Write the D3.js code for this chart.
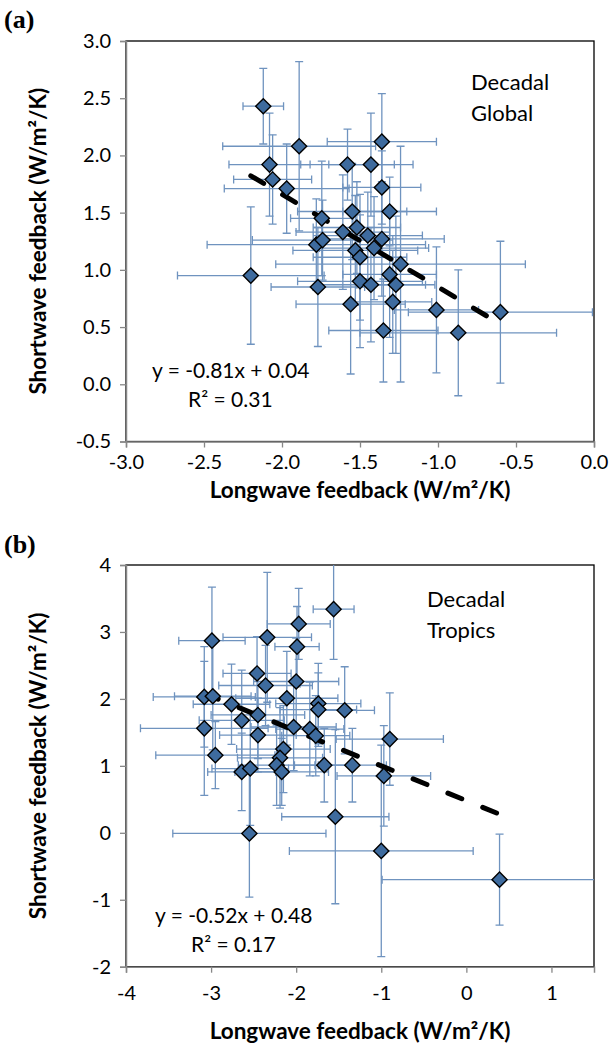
<!DOCTYPE html>
<html><head><meta charset="utf-8">
<script src="https://cdn.jsdelivr.net/npm/d3@7"></script>
<style>
body{margin:0;background:#fff;}
svg{display:block;}
text{font-family:Lato,"Open Sans",sans-serif;}
</style></head>
<body>
<svg id="c" width="611" height="1047"></svg>
<script>
// ---------- Panel (a): Decadal Global ----------
const lwA    = [-2.12,-1.89,-1.58,-1.43,-1.36,-2.08,-2.06,-1.97,-1.36,-1.55,-1.31,-1.745,-1.78,-1.74,-1.61,-1.52,-1.45,-1.36,-1.41,-1.53,-1.50,-1.24,-2.20,-1.77,-1.50,-1.43,-1.31,-1.27,-1.29,-1.56,-1.35,-1.01,-0.87,-0.60];
const swA    = [ 2.43, 2.08, 1.92, 1.92, 2.12, 1.92, 1.79, 1.71, 1.72, 1.51, 1.51, 1.45, 1.22, 1.26, 1.33, 1.37, 1.30, 1.27, 1.19, 1.17, 1.11, 1.05, 0.95, 0.85, 0.90, 0.87, 0.96, 0.87, 0.72, 0.70, 0.47, 0.65, 0.45, 0.63];
const lwErrA = [ 0.13, 0.49, 0.30, 0.27, 0.35, 0.26, 0.25, 0.40, 0.25, 0.35, 0.30, 0.20, 0.70, 0.45, 0.30, 0.28, 0.35, 0.40, 0.35, 0.40, 0.30, 0.80, 0.47, 0.30, 0.40, 0.35, 0.30, 0.25, 0.25, 0.35, 0.35, 0.27, 0.63, 0.59];
const swErrA = [ 0.33, 0.74, 0.31, 0.45, 0.42, 0.45, 0.39, 0.39, 0.32, 0.42, 0.30, 0.50, 0.40, 0.35, 0.50, 0.40, 0.38, 0.50, 0.45, 0.48, 0.55, 1.03, 0.60, 0.52, 0.58, 0.50, 0.55, 0.60, 0.45, 0.61, 0.45, 0.55, 0.55, 0.62];
const fitA = {slope:-0.81, intercept:0.04, x0:-2.2, x1:-0.6};
const eqA = ["y = -0.81x + 0.04", "R² = 0.31"];
const labelA = ["Decadal", "Global"];
const xTicksA = [-3.0,-2.5,-2.0,-1.5,-1.0,-0.5,0.0];
const yTicksA = [-0.5,0.0,0.5,1.0,1.5,2.0,2.5,3.0];

// ---------- Panel (b): Decadal Tropics ----------
const lwB    = [-1.56,-1.97,-2.99,-2.34,-1.99,-2.46,-2.36,-2.00,-2.11,-3.08,-2.98,-2.76,-2.64,-2.45,-3.08,-2.45,-2.03,-1.84,-1.74,-1.74,-1.43,-0.90,-2.95,-2.15,-2.19,-2.64,-2.54,-2.23,-2.17,-1.67,-1.34,-0.97,-1.54,-2.55,-1.00, 0.39,-1.77];
const swB    = [ 3.34, 3.12, 2.87, 2.92, 2.78, 2.38, 2.20, 2.26, 2.01, 2.03, 2.04, 1.92, 1.68, 1.76, 1.56, 1.46, 1.58, 1.55, 1.93, 1.84, 1.83, 1.40, 1.16, 1.25, 1.12, 0.91, 0.96, 1.01, 0.91, 1.01, 1.01, 0.85, 0.24,-0.01,-0.27,-0.70, 1.45];
const lwErrB = [ 0.24, 0.37, 0.39, 0.52, 0.26, 0.40, 0.55, 0.50, 0.60, 0.60, 0.45, 0.45, 0.50, 0.55, 0.75, 0.45, 0.50, 0.40, 0.50, 0.45, 0.35, 0.63, 0.70, 0.55, 0.50, 0.40, 0.45, 0.45, 0.55, 0.35, 0.40, 0.55, 0.63, 0.90, 1.08, 1.38, 0.40];
const swErrB = [ 0.75, 0.53, 0.80, 0.97, 0.60, 0.55, 0.60, 0.65, 0.70, 0.75, 0.80, 0.60, 0.75, 0.65, 1.00, 0.55, 0.65, 0.70, 0.60, 0.55, 0.65, 0.69, 0.50, 0.65, 0.75, 0.58, 0.85, 0.60, 0.50, 0.55, 0.55, 0.75, 1.30, 0.95, 1.58, 0.68, 0.60];
const fitB = {slope:-0.52, intercept:0.48, x0:-3.08, x1:0.4};
const eqB = ["y = -0.52x + 0.48", "R² = 0.17"];
const labelB = ["Decadal", "Tropics"];
const xTicksB = [-4,-3,-2,-1,0,1];
const yTicksB = [-2,-1,0,1,2,3,4];

const xTitle = "Longwave feedback (W/m²/K)";
const yTitle = "Shortwave feedback (W/m²/K)";

const svg = d3.select("#c");
const axisGray = "#878787";
const errCol = "#6f93bf";
const ptFill = "#3e6b9e";
const hyph = f => v => f(v).replace("\u2212","-");

function panel(o){
  const g = svg.append("g");
  const x = d3.scaleLinear().domain(o.xDom).range([o.left, o.right]);
  const y = d3.scaleLinear().domain(o.yDom).range([o.bottom, o.top]);
  const clipId = "clip"+o.id;
  svg.append("clipPath").attr("id", clipId).append("rect")
    .attr("x", o.left).attr("y", o.top).attr("width", o.right-o.left).attr("height", o.bottom-o.top);

  g.append("rect").attr("x", o.left).attr("y", o.top)
    .attr("width", o.right-o.left).attr("height", o.bottom-o.top)
    .attr("fill","none").attr("stroke","#000").attr("stroke-width",1.3);

  const data = o.xs.map((v,i)=>({x:v, y:o.ys[i], ex:o.exs[i], ey:o.eys[i]}));
  const eb = g.append("g").attr("clip-path", `url(#${clipId})`)
    .attr("stroke", errCol).attr("stroke-width", 1.3).attr("fill","none");
  const cap = 4;
  data.forEach(d=>{
    const cx = x(d.x), cy = y(d.y);
    const xl = x(d.x-d.ex), xr = x(d.x+d.ex), yt = y(d.y+d.ey), yb = y(d.y-d.ey);
    eb.append("line").attr("x1",xl).attr("x2",xr).attr("y1",cy).attr("y2",cy);
    eb.append("line").attr("x1",xl).attr("x2",xl).attr("y1",cy-cap).attr("y2",cy+cap);
    eb.append("line").attr("x1",xr).attr("x2",xr).attr("y1",cy-cap).attr("y2",cy+cap);
    eb.append("line").attr("x1",cx).attr("x2",cx).attr("y1",yt).attr("y2",yb);
    eb.append("line").attr("x1",cx-cap).attr("x2",cx+cap).attr("y1",yt).attr("y2",yt);
    eb.append("line").attr("x1",cx-cap).attr("x2",cx+cap).attr("y1",yb).attr("y2",yb);
  });

  const f = o.fit;
  g.append("line")
    .attr("x1", x(f.x0)).attr("y1", y(f.slope*f.x0+f.intercept))
    .attr("x2", x(f.x1)).attr("y2", y(f.slope*f.x1+f.intercept))
    .attr("stroke","#000").attr("stroke-width",5)
    .attr("stroke-linecap","round").attr("stroke-dasharray", o.dash);

  g.append("g").selectAll("path").data(data).join("path")
    .attr("d", d3.symbol().type(d3.symbolSquare).size(115))
    .attr("transform", d=>`translate(${x(d.x)},${y(d.y)}) rotate(45)`)
    .attr("fill", ptFill).attr("stroke","#000").attr("stroke-width",1.4);

  const ax = g.append("g").attr("transform",`translate(0,${o.bottom})`)
    .call(d3.axisBottom(x).tickValues(o.xTicks).tickFormat(o.fmt).tickSize(6).tickPadding(o.xPad));
  const ay = g.append("g").attr("transform",`translate(${o.left},0)`)
    .call(d3.axisLeft(y).tickValues(o.yTicks).tickFormat(o.fmt).tickSize(6).tickPadding(9));
  [ax, ay].forEach(a=>{
    a.select(".domain").attr("stroke", axisGray).attr("stroke-width",1.5);
    a.selectAll(".tick line").attr("stroke", axisGray).attr("stroke-width",1.3);
    a.selectAll(".tick text").attr("fill","#000").style("font-size","20px").style("font-family","Lato");
  });

  g.append("text").attr("x", (o.left+o.right)/2).attr("y", o.bottom+o.xTitleDy)
    .attr("text-anchor","middle").style("font-size","22.5px").style("font-weight","bold")
    .text(xTitle);
  g.append("text").attr("transform",`translate(${o.yTitleX},${(o.top+o.bottom)/2}) rotate(-90)`)
    .attr("text-anchor","middle").style("font-size","22.5px").style("font-weight","bold")
    .text(yTitle);

  g.append("text").attr("x",4).attr("y",o.letterY).text(o.letter)
    .style("font-family","'Liberation Serif','DejaVu Serif',serif").style("font-weight","bold").style("font-size","26px");

  o.label.forEach((t,i)=>{
    g.append("text").attr("x", o.labelX).attr("y", o.labelY + i*31).text(t).style("font-size","22px");
  });
  g.append("text").attr("x", o.eqX).attr("y", o.eqY).text(o.eq[0]).style("font-size","21px");
  g.append("text").attr("x", o.eqX+36).attr("y", o.eqY+29).text(o.eq[1]).style("font-size","21px");
}

panel({id:"a", xDom:[-3,0], yDom:[-0.5,3], left:126, right:594, top:41, bottom:441.5,
  xs:lwA, ys:swA, exs:lwErrA, eys:swErrA, fit:fitA, xTicks:xTicksA, yTicks:yTicksA,
  fmt:hyph(d3.format(".1f")), xPad:7, xTitleDy:56, yTitleX:46, letter:"(a)", letterY:28,
  label:labelA, labelX:471, labelY:90, eq:eqA, eqX:152, eqY:378, dash:"15 22"});

panel({id:"b", xDom:[-4,1.5], yDom:[-2,4], left:126, right:594, top:565, bottom:966.7,
  xs:lwB, ys:swB, exs:lwErrB, eys:swErrB, fit:fitB, xTicks:xTicksB, yTicks:yTicksB,
  fmt:hyph(d3.format("d")), xPad:13, xTitleDy:72, yTitleX:46, letter:"(b)", letterY:553,
  label:labelB, labelX:427, labelY:607, eq:eqB, eqX:155, eqY:923, dash:"15 22.6"});
</script>
</body></html>
